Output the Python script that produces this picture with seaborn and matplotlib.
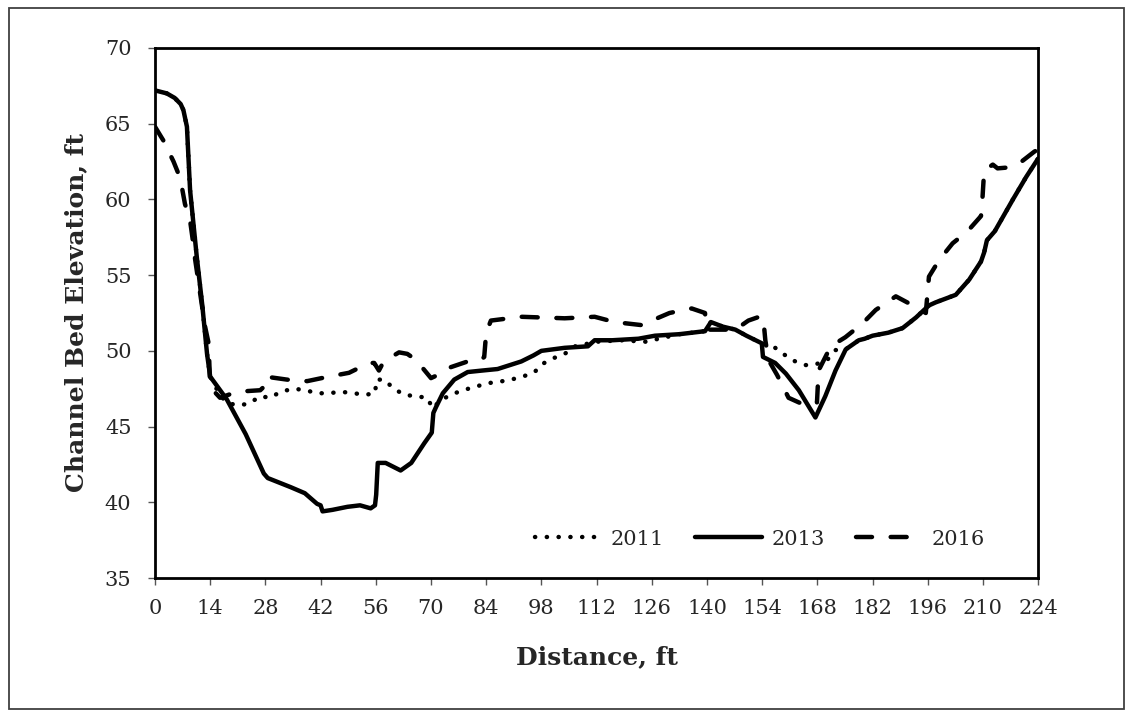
import numpy as np
import pandas as pd
import matplotlib
matplotlib.use('Agg')
import matplotlib.pyplot as plt
import seaborn as sns
from matplotlib.patches import Rectangle

# Channel cross-section survey values
dist_2011 = [0, 3, 5, 6.5, 7.2, 8.1, 8.9, 10.6, 12, 13.2, 14, 16, 18, 20.8, 23.7, 26.7, 29.3,
             31.8, 35.2, 38.2, 41.1, 44.1, 47.1, 50.4, 53.4, 55.8, 56.2, 58.1, 60.6, 63.2, 66.2,
             69.1, 70.4, 72.5, 75.1, 78, 81, 84, 87.3, 90.3, 93.3, 96.3, 98, 100.9, 103.9, 106.6,
             112, 118, 124.7, 127.7, 133, 139.5, 141, 144, 147.2, 150, 153.9, 157.3, 159.9,
             162.4, 165, 167.5, 170.5, 172.6, 175.2, 178.5, 180, 182, 186, 189.6, 193, 196.3,
             198, 203.1, 206.5, 209.5, 210.3, 211, 213, 217.6, 221, 224]
elev_2011 = [67.2, 67.0, 66.7, 66.3, 65.9, 64.8, 60.6, 56.2, 53.0, 49.8, 48.3, 47.3, 46.6, 46.4,
             46.5, 47.0, 46.9, 47.3, 47.5, 47.4, 47.2, 47.2, 47.3, 47.2, 47.1, 47.2, 48.1, 48.1,
             47.5, 47.1, 47.0, 46.9, 46.2, 46.75, 47.1, 47.4, 47.6, 47.85, 47.96, 48.1, 48.3,
             48.6, 49.1, 49.5, 49.8, 50.3, 50.6, 50.7, 50.6, 50.8, 51.1, 51.3, 51.9, 51.6, 51.4,
             51.0, 50.5, 50.2, 49.7, 49.3, 49.06, 49.1, 49.4, 50.05, 50.1, 50.7, 50.8, 51.0,
             51.2, 51.5, 52.2, 53.0, 53.2, 53.7, 54.7, 55.9, 56.5, 57.3, 57.9, 60.0, 61.5, 62.7]

dist_2013 = [0, 3, 5, 6.5, 7.2, 8.1, 8.9, 10.6, 12, 13.2, 14, 18.2, 23, 27.6, 28.6, 34.4, 38,
             41.1, 42, 42.5, 45, 48.8, 52, 54.7, 55.8, 56.1, 56.5, 58.5, 62.3, 65, 68.3, 70.2,
             70.6, 71.3, 73, 75.9, 79.3, 83, 86.9, 92.9, 96, 98, 103.9, 109.8, 111.5, 116, 122.6,
             126.8, 133, 139.5, 141, 144, 147.2, 150, 153.9, 154.2, 157.3, 160, 163.3, 167.5,
             170, 172.6, 175.2, 178.5, 180, 182, 186, 189.6, 193, 196.3, 198, 203.1, 206.5,
             209.5, 210.3, 211, 213, 217.6, 221, 224]
elev_2013 = [67.2, 67.0, 66.7, 66.3, 65.9, 64.8, 60.6, 56.2, 53.0, 49.8, 48.3, 46.8, 44.5, 41.9,
             41.6, 41.0, 40.6, 39.9, 39.8, 39.4, 39.5, 39.7, 39.8, 39.6, 39.8, 40.5, 42.6, 42.6,
             42.1, 42.6, 43.9, 44.6, 45.9, 46.3, 47.2, 48.1, 48.6, 48.7, 48.8, 49.3, 49.7, 50.0,
             50.2, 50.3, 50.7, 50.7, 50.8, 51.0, 51.1, 51.3, 51.9, 51.6, 51.4, 51.0, 50.5, 49.6,
             49.2, 48.5, 47.4, 45.6, 47.0, 48.7, 50.1, 50.7, 50.8, 51.0, 51.2, 51.5, 52.2, 53.0,
             53.2, 53.7, 54.7, 55.9, 56.5, 57.3, 57.9, 60.0, 61.5, 62.7]

dist_2016 = [0, 2.1, 4.7, 6.4, 7.6, 8.9, 9.7, 10.2, 12.7, 13.6, 14, 16.5, 20.8, 26.7, 27.5, 28,
             33.5, 38.6, 44.1, 49.2, 54.3, 55.6, 56.8, 58, 61.9, 64, 66.2, 70, 72.5, 74.2, 79.3,
             82.7, 83.5, 84, 85.2, 92.9, 103.9, 111.5, 116.6, 123.4, 126, 130.5, 136.1, 139.5,
             139.9, 147.2, 150.5, 153.8, 154.3, 154.8, 155.6, 157.8, 160.7, 164.1, 166.5, 167.9,
             168.3, 171.4, 175.1, 179.4, 182.8, 187.9, 191.5, 195.5, 196.3, 198.9, 202.3, 206.1,
             209.5, 209.9, 210.3, 212.5, 213.7, 216, 219.3, 223, 224]
elev_2016 = [64.8, 63.9, 62.5, 61.4, 59.7, 58.6, 57.1, 56.0, 51.6, 50.5, 47.6, 46.9, 47.3, 47.4,
             47.6, 48.3, 48.1, 48.0, 48.3, 48.55, 49.2, 49.2, 48.7, 49.3, 49.9, 49.8, 49.4, 48.2,
             48.5, 48.85, 49.3, 49.4, 49.6, 51.2, 52.0, 52.25, 52.15, 52.25, 51.9, 51.7, 52.0,
             52.5, 52.8, 52.5, 51.4, 51.4, 52.0, 52.3, 52.1, 50.7, 49.4, 48.4, 46.9, 46.5, 46.4,
             46.6, 48.7, 50.3, 50.9, 51.8, 52.7, 53.6, 53.1, 52.5, 54.9, 56.0, 57.1, 57.9, 58.9,
             60.2, 61.9, 62.3, 62.05, 62.1, 62.4, 63.15, 63.3]

x_ticks = list(range(0, 225, 14))
y_ticks = list(range(35, 71, 5))

sns.set_style('white')
plt.rcParams['font.family'] = ['DejaVu Serif']

fig = plt.figure(figsize=(11.33, 7.15), dpi=100)
ax = fig.add_axes([0.1368, 0.1916, 0.7795, 0.7413])

#one lineplot per survey year
surveys = [('2011', dist_2011, elev_2011, (0, (0.05, 2.6))),
           ('2013', dist_2013, elev_2013, '-'),
           ('2016', dist_2016, elev_2016, (0, (3.6, 4.2)))]
for year, xs, ys, ls in surveys:
    df = pd.DataFrame({'distance': xs, 'elevation': ys})
    sns.lineplot(data=df, x='distance', y='elevation', sort=False, estimator=None,
                 color='black', linewidth=3.2, linestyle=ls, label=year, ax=ax,
                 solid_capstyle='round', dash_capstyle='round')

ax.set_xlim(0, 224)
ax.set_ylim(35, 70)
ax.set_xticks(x_ticks)
ax.set_yticks(y_ticks)
ax.tick_params(axis='both', labelsize=15, direction='out', length=5, width=1, color='#555555',
               bottom=True, left=True)
ax.tick_params(axis='x', pad=10)
ax.tick_params(axis='y', pad=12)
for side in ['left', 'bottom', 'top', 'right']:
    ax.spines[side].set_color('black')
    ax.spines[side].set_linewidth(2)

ax.set_xlabel('Distance, ft', fontsize=18, fontweight='bold', labelpad=20)
ax.set_ylabel('Channel Bed Elevation, ft', fontsize=18, fontweight='bold', labelpad=12)

leg = ax.legend(loc='lower center', bbox_to_anchor=(0.685, 0.02), ncol=3, frameon=False,
                fontsize=15, handlelength=3.2, handletextpad=0.45, columnspacing=1.5)

# outer chart border
fig.patches.append(Rectangle((0.008, 0.008), 0.984, 0.981, transform=fig.transFigure,
                             fill=False, edgecolor='#404040', linewidth=1.3))

fig.savefig('out.png', dpi=100)
